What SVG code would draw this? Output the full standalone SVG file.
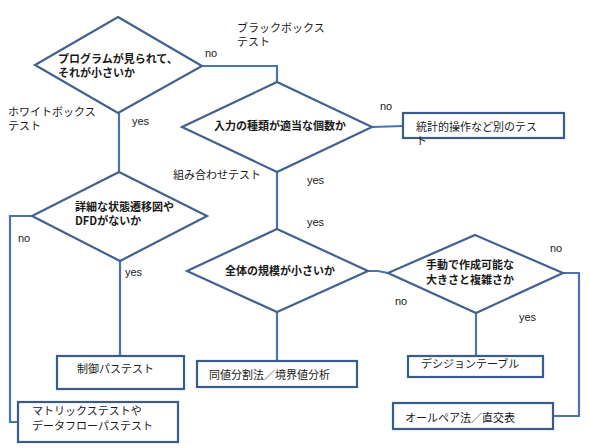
<svg xmlns="http://www.w3.org/2000/svg" width="590" height="448" viewBox="0 0 590 448">
<style>
.shape{fill:#fff;stroke:#41628f;stroke-width:2.2}
.box{fill:#fff;stroke:#385D8A;stroke-width:2.2}
.conn{fill:none;stroke:#4A74AB;stroke-width:2.2}
text{font-family:"Noto Sans CJK JP","Noto Sans",sans-serif;font-size:11px;fill:#1a1a1a}
.b{font-weight:bold}
.lat{font-family:"Liberation Sans",Arial,sans-serif;font-size:11px}
</style>
<rect width="590" height="448" fill="#fff"/>
<g id="connectors">
<polyline class="conn" points="202,66 277,66 277,82"/>
<line class="conn" x1="372" y1="127" x2="403" y2="126"/>
<line class="conn" x1="119" y1="113" x2="119" y2="172"/>
<polyline class="conn" points="32,216 10,216 10,422 18,422"/>
<line class="conn" x1="120" y1="261" x2="120" y2="356"/>
<line class="conn" x1="277" y1="172" x2="277" y2="229"/>
<line class="conn" x1="277" y1="312" x2="277" y2="361"/>
<polyline class="conn" points="368,271 378,271 388,273"/>
<line class="conn" x1="476" y1="313" x2="476" y2="356"/>
<polyline class="conn" points="563,273 579,273 579,416 553,416"/>
</g>
<g id="d1">
<polygon class="shape" points="118,17 202,66 118,113 35,65"/>
<text class="b" x="58" y="63">プログラムが見られて、<tspan x="58" dy="14">それが小さいか</tspan></text>
</g>
<g id="d2">
<polygon class="shape" points="277,82 372,127 277,172 182,127"/>
<text class="b" x="280" y="130" text-anchor="middle">入力の種類が適当な個数か</text>
</g>
<g id="d3">
<polygon class="shape" points="119,172 207,216 120,261 32,216"/>
<text class="b" x="75" y="211">詳細な状態遷移図や<tspan x="75" dy="14">DFDがないか</tspan></text>
</g>
<g id="d4">
<polygon class="shape" points="277,229 368,271 277,312 187,271"/>
<text class="b" x="280" y="275" text-anchor="middle">全体の規模が小さいか</text>
</g>
<g id="d5">
<polygon class="shape" points="475,235 563,273 476,313 388,273"/>
<text class="b" x="470" y="269" text-anchor="middle">手動で作成可能な<tspan x="470" dy="15">大きさと複雑さか</tspan></text>
</g>
<g id="b-stat">
<rect class="box" x="403" y="113" width="161" height="25"/>
<text x="416" y="131">統計的操作など別のテス<tspan x="416" dy="14">ト</tspan></text>
</g>
<g id="b-ctrl">
<rect class="box" x="57" y="356" width="127" height="33"/>
<text x="77" y="373">制御パステスト</text>
</g>
<g id="b-matrix">
<rect class="box" x="18" y="402" width="160" height="40"/>
<text x="32" y="415">マトリックステストや<tspan x="32" dy="15">データフローパステスト</tspan></text>
</g>
<g id="b-equiv">
<rect class="box" x="197" y="361" width="160" height="26"/>
<text x="209" y="379">同値分割法／境界値分析</text>
</g>
<g id="b-decision">
<rect class="box" x="408" y="356" width="135" height="21"/>
<text x="421" y="368">デシジョンテーブル</text>
</g>
<g id="b-pair">
<rect class="box" x="393" y="403" width="160" height="26"/>
<text x="405" y="422">オールペア法／直交表</text>
</g>
<g id="labels">
<text x="237" y="32">ブラックボックス<tspan x="237" dy="14">テスト</tspan></text>
<text x="8" y="116">ホワイトボックス<tspan x="8" dy="14">テスト</tspan></text>
<text x="173" y="179">組み合わせテスト</text>
<text class="lat" x="205" y="57">no</text>
<text class="lat" x="380" y="110">no</text>
<text class="lat" x="132" y="125">yes</text>
<text class="lat" x="307" y="184">yes</text>
<text class="lat" x="307" y="226">yes</text>
<text class="lat" x="18" y="242">no</text>
<text class="lat" x="125" y="276">yes</text>
<text class="lat" x="395" y="305">no</text>
<text class="lat" x="550" y="252">no</text>
<text class="lat" x="519" y="321">yes</text>
</g>
</svg>
